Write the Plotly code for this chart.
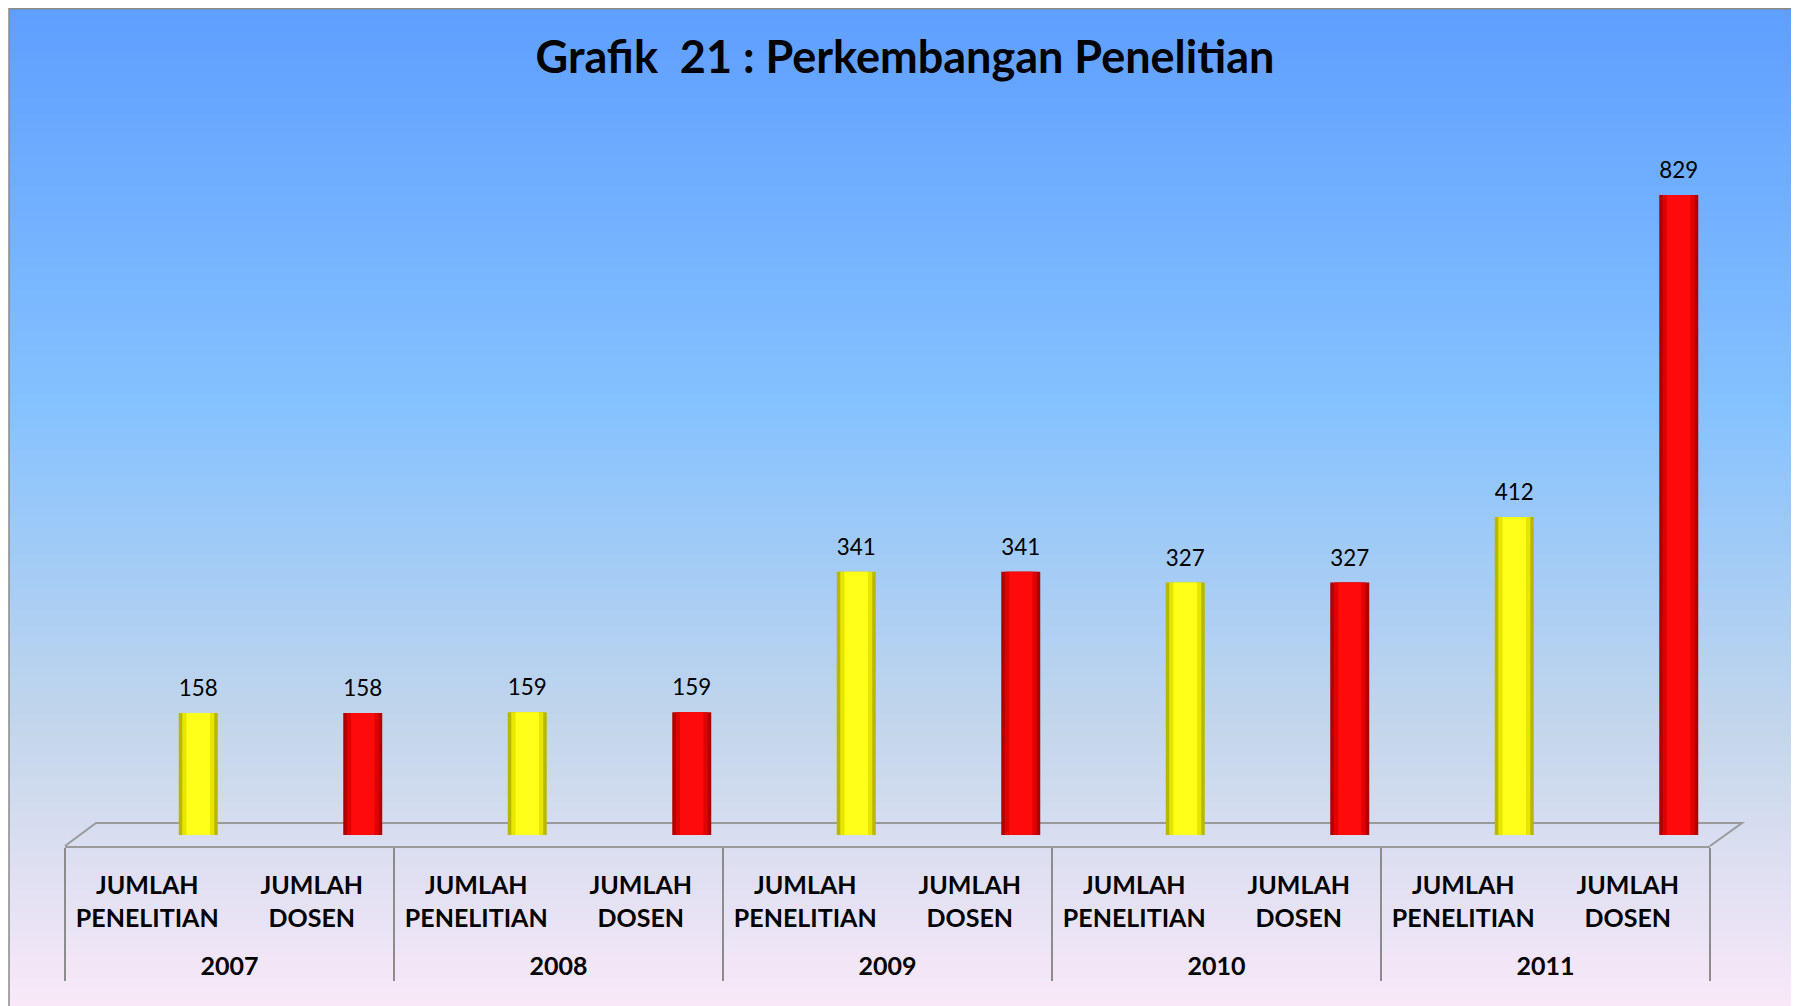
import plotly.graph_objects as go

# ---------------- data ----------------
years = ["2007", "2008", "2009", "2010", "2011"]
cat_penelitian = "JUMLAH<br>PENELITIAN"
cat_dosen = "JUMLAH<br>DOSEN"
jumlah_penelitian = [158, 159, 341, 327, 412]
jumlah_dosen = [158, 159, 341, 327, 829]
title_text = "Grafik\u00a0 21 : Perkembangan Penelitian"

# ---------------- geometry / style ----------------
# page has an 8px body margin; figure is sized to fill the rest of the window
OFF = 8
W, H = 1799 - OFF, 1006 - OFF
FONT = "Lato, 'Open Sans', sans-serif"


def px(x):          # page pixel -> paper x
    return (x - OFF) / W


def py(y):          # page pixel -> paper y
    return 1 - (y - OFF) / H


year_labels = ["<br>" + y for y in years]   # extra spacing before the year row
x_pen = [year_labels, [cat_penelitian] * len(years)]
x_dos = [year_labels, [cat_dosen] * len(years)]

series = [
    (x_pen, jumlah_penelitian, ["#B8B800", "#E6E600", "#FFFF1A"]),
    (x_dos, jumlah_dosen, ["#B00000", "#E00000", "#FF0A0A"]),
]

shift = 0.31      # 3D depth shift of bars to the right (category units)
bar_w = 0.237
layers = [1.0, 0.82, 0.6]   # cylinder shading layers (fraction of width)
s = 0.772                   # px per value unit
label_pad = 9 / s           # gap between cylinder top and value label

fig = go.Figure()
for xs, vals, cols in series:
    for li, (frac, col) in enumerate(zip(layers, cols)):
        w = bar_w * frac
        fig.add_trace(go.Bar(
            x=xs, y=vals,
            width=w, offset=shift - w / 2,
            marker=dict(color=col, line=dict(width=0), cornerradius=int(9 * frac)),
            showlegend=False,
            hoverinfo="skip" if li else "y",
        ))
    # invisible spacer carrying the value label above the cylinder cap
    fig.add_trace(go.Bar(
        x=xs, y=[label_pad] * len(vals), base=vals,
        width=bar_w, offset=shift - bar_w / 2,
        marker=dict(color="rgba(0,0,0,0)", line=dict(width=0)),
        text=vals, texttemplate="%{text}", textposition="outside",
        textfont=dict(family=FONT, size=23, color="#000000"),
        cliponaxis=False, showlegend=False, hoverinfo="skip",
    ))

# ---------------- background gradient (Office "Daybreak") ----------------
stops = [(0.0, (0x5E, 0x9E, 0xFF)), (0.39, (0x85, 0xC2, 0xFF)),
         (0.70, (0xC4, 0xD6, 0xEB)), (1.0, (0xFF, 0xEB, 0xFA))]


def grad(t):
    for (t0, c0), (t1, c1) in zip(stops[:-1], stops[1:]):
        if t <= t1:
            f = (t - t0) / (t1 - t0)
            return "rgb(%d,%d,%d)" % tuple(round(a + (b - a) * f) for a, b in zip(c0, c1))
    return "rgb(%d,%d,%d)" % stops[-1][1]


shapes = []
top_px, bot_px = 5, 1040
n = 200
for i in range(n):
    y0 = top_px + (bot_px - top_px) * i / n
    y1 = top_px + (bot_px - top_px) * (i + 1) / n + 1.5
    shapes.append(dict(type="rect", xref="paper", yref="paper",
                       x0=px(9), x1=px(1799 + 5), y0=py(min(y1, 1010)), y1=py(max(y0, OFF - 2)),
                       fillcolor=grad((i + 0.5) / n), line=dict(width=0),
                       layer="below"))

# chart border (left & top)
shapes.append(dict(type="path", xref="paper", yref="paper",
                   path="M %f,%f L %f,%f L %f,%f" % (px(9), py(1010), px(9), py(OFF + 0.75),
                                                     px(1805), py(OFF + 0.75)),
                   line=dict(color="#8a8a8a", width=1.5), layer="below"))

# 3D floor outline
floor_path = "M %f,%f L %f,%f L %f,%f L %f,%f" % (
    px(65), py(846), px(96), py(823), px(1742), py(823), px(1710), py(846))
shapes.append(dict(type="path", xref="paper", yref="paper", path=floor_path,
                   line=dict(color="#9a9a9a", width=2), layer="below"))

# ---------------- layout ----------------
y_zero_px, y_bot_px, y_top_px = 835, 846, 110
fig.update_layout(
    width=W, height=H,
    margin=dict(l=0, r=0, t=0, b=0),
    paper_bgcolor="#ffffff",
    plot_bgcolor="rgba(0,0,0,0)",
    barmode="overlay",
    shapes=shapes,
    title=dict(text=title_text, x=px(905), y=py(57), xanchor="center", yanchor="middle",
               font=dict(family=FONT, size=45, color="#000000", weight="bold")),
    xaxis=dict(
        type="multicategory",
        domain=[px(65), px(1710)],
        showline=True, linecolor="#9a9a9a", linewidth=2,
        showgrid=False, zeroline=False,
        ticks="", ticklabelstandoff=16,
        tickfont=dict(family=FONT, size=25, color="#000000", weight="bold"),
        showdividers=True, dividercolor="#8c8c8c", dividerwidth=2,
        automargin=False,
    ),
    yaxis=dict(
        domain=[py(y_bot_px), py(y_top_px)],
        range=[-(y_bot_px - y_zero_px) / s, (y_zero_px - y_top_px) / s],
        visible=False, showgrid=False, zeroline=False,
    ),
)

fig.write_html("out.html")
